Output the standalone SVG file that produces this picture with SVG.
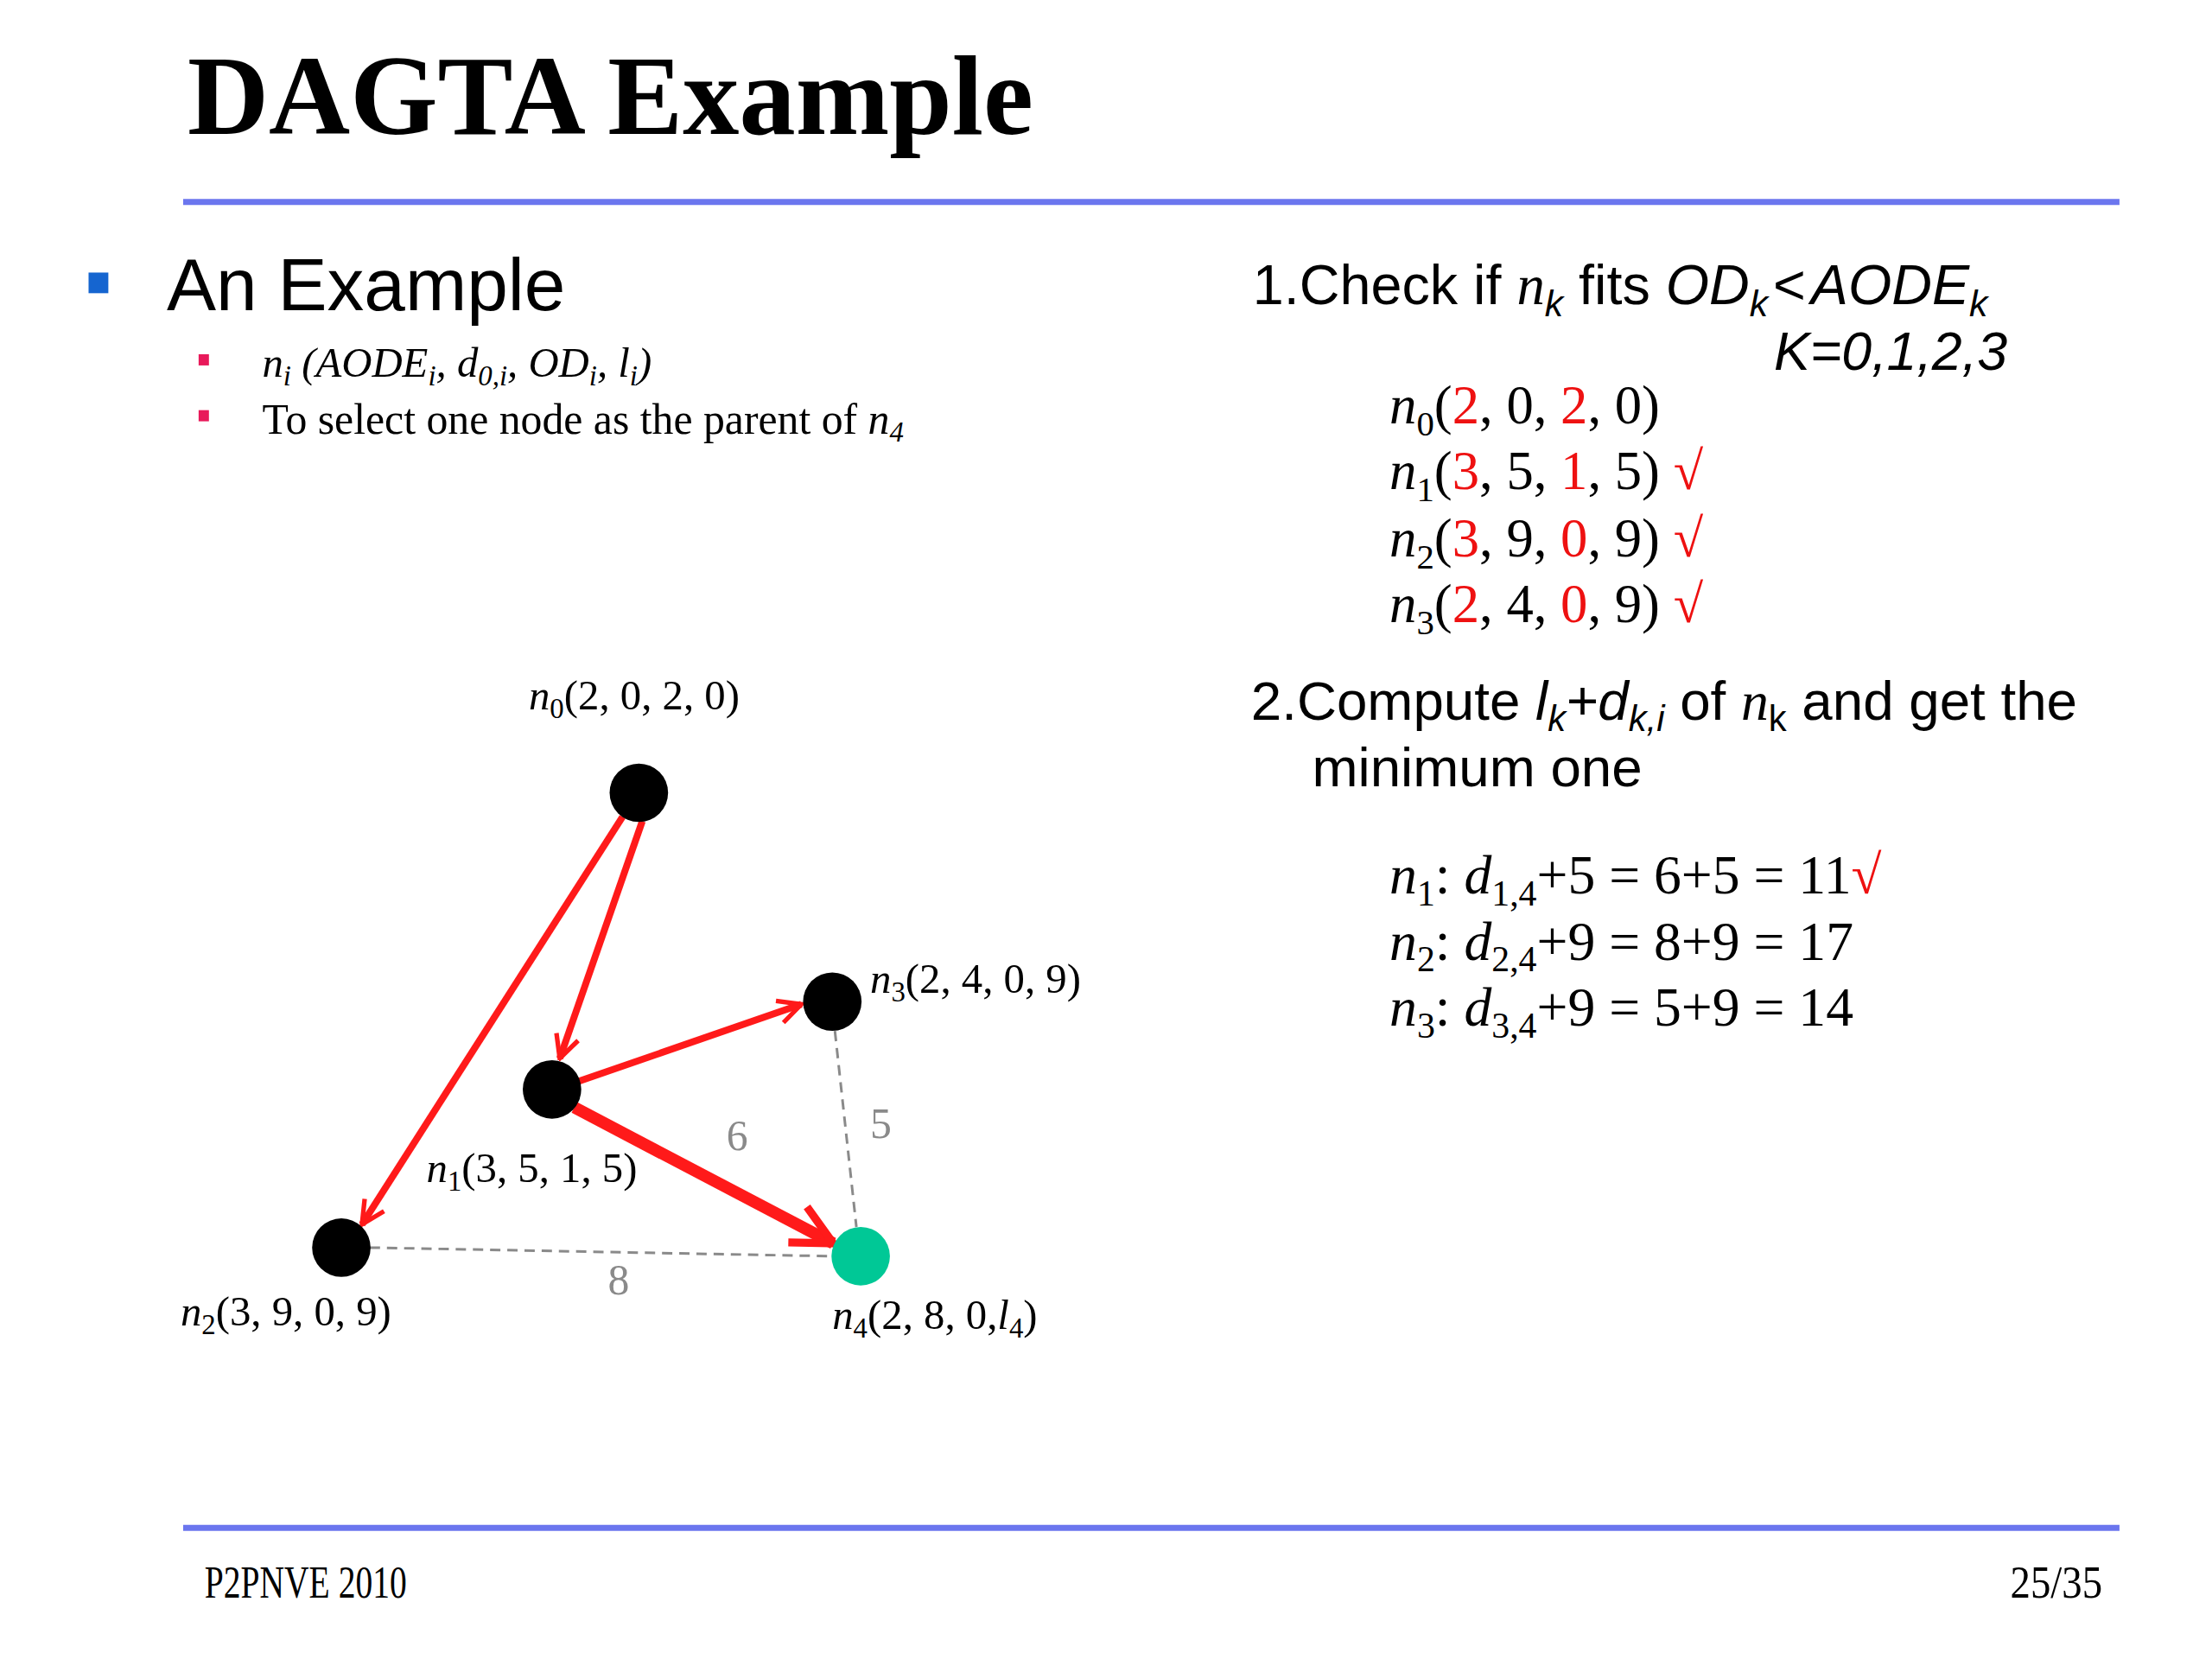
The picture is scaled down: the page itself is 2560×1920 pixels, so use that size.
<svg xmlns="http://www.w3.org/2000/svg" width="2560" height="1920" viewBox="0 0 2560 1920">
<style>
.serif{font-family:"Liberation Serif","Times New Roman",serif;}
.sans{font-family:"Liberation Sans",Arial,sans-serif;}
.it{font-style:italic;}
.red{fill:#ee1111;}
.gray{fill:#8a8a8a;}
.rule{stroke:#6b76ee;stroke-width:7;}
.arrow{stroke:#ff1a1a;stroke-width:8;fill:none;marker-end:url(#head);}
.thick{stroke-width:14;}
.dash{stroke:#8a8a8a;stroke-width:3;stroke-dasharray:12 8;fill:none;}
.node{fill:#000;}
</style>
<defs>
<marker id="head" viewBox="0 0 12 12" refX="11" refY="6" markerWidth="4" markerHeight="4" orient="auto" markerUnits="strokeWidth">
<path d="M1,1 L11,6 L1,11" fill="none" stroke="#ff1a1a" stroke-width="2"/>
</marker>
</defs>
<rect width="2560" height="1920" fill="#ffffff"/>
<g transform="scale(0.9951)">
<text x="218" y="156" class="serif" font-size="131" font-weight="bold">DAGTA Example</text>
<line class="rule" x1="213" y1="235" x2="2465" y2="235"/>
<line class="rule" x1="213" y1="1777" x2="2465" y2="1777"/>

<rect x="103" y="317" width="23" height="24" fill="#1565d0"/>
<text x="194" y="361" class="sans" font-size="86">An Example</text>

<rect x="231" y="412" width="12" height="13" fill="#e8195a"/>
<rect x="231" y="477" width="12" height="13" fill="#e8195a"/>
<text x="305" y="438" class="serif it" font-size="49">n<tspan font-size="33" dy="10">i</tspan><tspan dy="-10"> (AODE</tspan><tspan font-size="33" dy="10">i</tspan><tspan dy="-10">, d</tspan><tspan font-size="33" dy="10">0,i</tspan><tspan dy="-10">, OD</tspan><tspan font-size="33" dy="10">i</tspan><tspan dy="-10">, l</tspan><tspan font-size="33" dy="10">i</tspan><tspan dy="-10">)</tspan></text>
<text x="305" y="504" class="serif" font-size="50">To select one node as the parent of <tspan class="it">n</tspan><tspan class="it" font-size="33" dy="10">4</tspan></text>

<text x="1457" y="354" class="sans" font-size="65">1.Check if <tspan class="serif it">n</tspan><tspan class="it" font-size="43" dy="14">k</tspan><tspan dy="-14"> fits </tspan><tspan class="it">OD</tspan><tspan class="it" font-size="43" dy="14">k</tspan><tspan dy="-14" dx="6">&lt;</tspan><tspan class="it" dx="6">AODE</tspan><tspan class="it" font-size="43" dy="14">k</tspan></text>
<text x="2063" y="430" class="sans it" font-size="63">K=0,1,2,3</text>

<g class="serif" font-size="63">
<text x="1616" y="492"><tspan class="it">n</tspan><tspan font-size="41" dy="14">0</tspan><tspan dy="-14">(</tspan><tspan class="red">2</tspan>, 0, <tspan class="red">2</tspan>, 0)</text>
<text x="1616" y="569"><tspan class="it">n</tspan><tspan font-size="41" dy="14">1</tspan><tspan dy="-14">(</tspan><tspan class="red">3</tspan>, 5, <tspan class="red">1</tspan>, 5) <tspan class="red">√</tspan></text>
<text x="1616" y="647"><tspan class="it">n</tspan><tspan font-size="41" dy="14">2</tspan><tspan dy="-14">(</tspan><tspan class="red">3</tspan>, 9, <tspan class="red">0</tspan>, 9) <tspan class="red">√</tspan></text>
<text x="1616" y="724"><tspan class="it">n</tspan><tspan font-size="41" dy="14">3</tspan><tspan dy="-14">(</tspan><tspan class="red">2</tspan>, 4, <tspan class="red">0</tspan>, 9) <tspan class="red">√</tspan></text>
</g>

<text x="1455" y="837" class="sans" font-size="64">2.Compute <tspan class="it">l</tspan><tspan class="it" font-size="42" dy="13">k</tspan><tspan class="it" dy="-13">+d</tspan><tspan class="it" font-size="42" dy="13">k,i</tspan><tspan dy="-13"> of </tspan><tspan class="serif it">n</tspan><tspan font-size="42" dy="13">k</tspan><tspan dy="-13"> and get the</tspan></text>
<text x="1526" y="914" class="sans" font-size="64">minimum one</text>

<g class="serif" font-size="64">
<text x="1616" y="1039"><tspan class="it">n</tspan><tspan font-size="42" dy="14">1</tspan><tspan dy="-14">: </tspan><tspan class="it">d</tspan><tspan font-size="42" dy="14">1,4</tspan><tspan dy="-14">+5 = 6+5 = 11</tspan><tspan class="red">√</tspan></text>
<text x="1616" y="1116"><tspan class="it">n</tspan><tspan font-size="42" dy="14">2</tspan><tspan dy="-14">: </tspan><tspan class="it">d</tspan><tspan font-size="42" dy="14">2,4</tspan><tspan dy="-14">+9 = 8+9 = 17</tspan></text>
<text x="1616" y="1193"><tspan class="it">n</tspan><tspan font-size="42" dy="14">3</tspan><tspan dy="-14">: </tspan><tspan class="it">d</tspan><tspan font-size="42" dy="14">3,4</tspan><tspan dy="-14">+9 = 5+9 = 14</tspan></text>
</g>

<g id="connectors">
<line class="dash" x1="430" y1="1451" x2="968" y2="1461"/>
<line class="dash" x1="971" y1="1199" x2="996" y2="1427"/>
<line class="arrow" x1="724" y1="950" x2="421" y2="1424"/>
<line class="arrow" x1="747" y1="955" x2="651" y2="1231"/>
<line class="arrow" x1="672" y1="1258" x2="932" y2="1168"/>
<line class="arrow thick" x1="668" y1="1288" x2="969" y2="1446"/>
<text x="845" y="1338" class="serif gray" font-size="50">6</text>
<text x="1012" y="1323" class="serif gray" font-size="50">5</text>
<text x="707" y="1505" class="serif gray" font-size="50">8</text>
</g>

<g id="n0">
<circle class="node" cx="743" cy="922" r="34"/>
<text x="615" y="825" class="serif" font-size="49"><tspan class="it">n</tspan><tspan font-size="33" dy="10">0</tspan><tspan dy="-10">(2, 0, 2, 0)</tspan></text>
</g>
<g id="n1">
<circle class="node" cx="642" cy="1267" r="34"/>
<text x="496" y="1375" class="serif" font-size="49"><tspan class="it">n</tspan><tspan font-size="33" dy="10">1</tspan><tspan dy="-10">(3, 5, 1, 5)</tspan></text>
</g>
<g id="n2">
<circle class="node" cx="397" cy="1451" r="34"/>
<text x="210" y="1542" class="serif" font-size="49"><tspan class="it">n</tspan><tspan font-size="33" dy="10">2</tspan><tspan dy="-10">(3, 9, 0, 9)</tspan></text>
</g>
<g id="n3">
<circle class="node" cx="968" cy="1165" r="34"/>
<text x="1012" y="1155" class="serif" font-size="49"><tspan class="it">n</tspan><tspan font-size="33" dy="10">3</tspan><tspan dy="-10">(2, 4, 0, 9)</tspan></text>
</g>
<g id="n4">
<circle cx="1001" cy="1461" r="34" fill="#00c896"/>
<text x="968" y="1546" class="serif" font-size="49"><tspan class="it">n</tspan><tspan font-size="33" dy="10">4</tspan><tspan dy="-10">(2, 8, 0,</tspan><tspan class="it">l</tspan><tspan font-size="33" dy="10">4</tspan><tspan dy="-10">)</tspan></text>
</g>

<text x="238" y="1858" class="serif" font-size="52" textLength="235" lengthAdjust="spacingAndGlyphs">P2PNVE 2010</text>
<text x="2338" y="1858" class="serif" font-size="52" textLength="107" lengthAdjust="spacingAndGlyphs">25/35</text>
</g>
</svg>
